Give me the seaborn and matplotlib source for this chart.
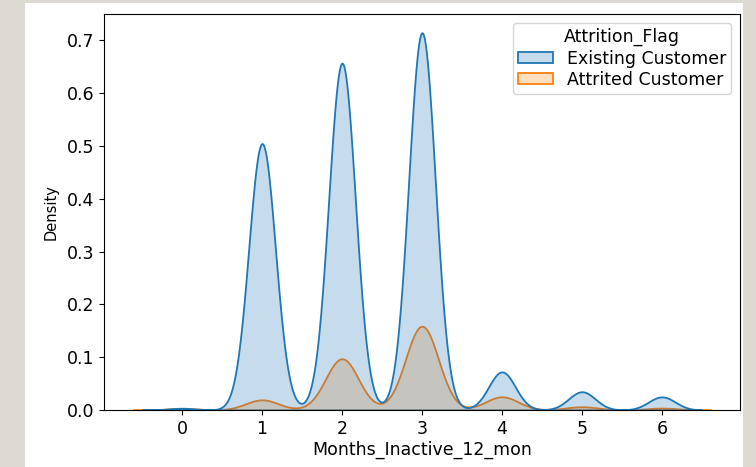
import matplotlib.pyplot as plt
import matplotlib.patches as mpatches
import numpy as np
import pandas as pd
import seaborn as sns

# counts of customers per number of inactive months (0..6)
months = [0, 1, 2, 3, 4, 5, 6]
existing_counts = [14, 2133, 2777, 3020, 305, 146, 105]
attrited_counts = [15, 100, 505, 826, 130, 32, 19]

# expand counts into one row per customer
df = pd.DataFrame({
    'Months_Inactive_12_mon': np.concatenate([
        np.repeat(months, existing_counts),
        np.repeat(months, attrited_counts),
    ]),
    'Attrition_Flag': ['Existing Customer'] * sum(existing_counts)
                      + ['Attrited Customer'] * sum(attrited_counts),
})

plt.rcParams['font.size'] = 12

fig = plt.figure(figsize=(7.56, 4.67), dpi=100, facecolor='#dcdad3')
# white page area of the screenshot, behind the axes
fig.add_artist(mpatches.Rectangle((25 / 756, 0), (743 - 25) / 756, 464 / 467,
                                  transform=fig.transFigure, facecolor='white',
                                  edgecolor='none', zorder=-10))
ax = fig.add_axes([104 / 756, 1 - 410 / 467, (740 - 104) / 756, (410 - 14) / 467])
ax.set_zorder(1)

sns.kdeplot(data=df, x='Months_Inactive_12_mon', hue='Attrition_Flag',
            hue_order=['Existing Customer', 'Attrited Customer'],
            fill=True, gridsize=600, linewidth=1.3, ax=ax)

ax.tick_params(labelsize=12.5)
ax.set_xlabel('Months_Inactive_12_mon', fontsize=12.5, labelpad=2)
ax.set_ylabel('Density', fontsize=10.5, labelpad=6)
sns.move_legend(ax, 'upper right', fontsize=12.5, title_fontsize=12.5,
                labelspacing=0.2, borderpad=0.3, handleheight=0.6)

fig.savefig('out.png', dpi=100, facecolor=fig.get_facecolor())
